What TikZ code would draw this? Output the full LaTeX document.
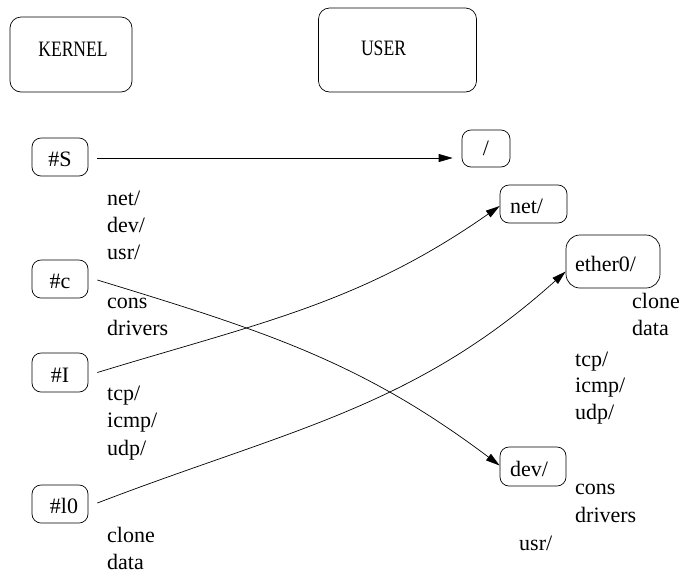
\documentclass[tikz,border=0pt]{standalone}
\usepackage{fontspec}
\setmainfont{Liberation Serif}
\usetikzlibrary{arrows.meta}
\newcommand\lowtxt[2][9.5pt]{\raisebox{-#1}[0pt][0pt]{#2}}
\newcommand\lefttxt[2]{\lowtxt{\makebox[#1][l]{#2}}}
\begin{document}
\begin{tikzpicture}[x=1pt,y=-1pt,
  every node/.style={font=\fontsize{22}{26}\selectfont},
  bigbox/.style={draw, line width=0.7pt, rounded corners=11pt, inner sep=0pt},
  smallbox/.style={draw, line width=0.7pt, rounded corners=9pt, inner sep=0pt},
  lbl/.style={anchor=base west, inner sep=0pt},
  conn/.style={line width=0.7pt, -{Triangle[length=14pt,width=8pt]}}]
\useasboundingbox (0,0) rectangle (682,574);

% top boxes
\node[bigbox, minimum width=122pt, minimum height=75pt] (kernel) at (71,54.5)
  {\lowtxt[1.5pt]{\hspace{4pt}\scalebox{0.8}[1]{KERNEL}}};
\node[bigbox, minimum width=158pt, minimum height=84pt] (user) at (397.5,50)
  {\lowtxt[5.5pt]{\scalebox{0.8}[1]{USER}\hspace{28pt}}};

% kernel side boxes
\node[smallbox, minimum width=56pt, minimum height=38pt] (S) at (60,157) {\lowtxt{\#S}};
\node[smallbox, minimum width=56pt, minimum height=38pt] (c) at (60,279) {\lowtxt{\#c}};
\node[smallbox, minimum width=56pt, minimum height=39pt] (I) at (60,372.5) {\lowtxt{\#I}};
\node[smallbox, minimum width=56pt, minimum height=38pt] (l0) at (60,504) {\lowtxt{\hspace{8pt}\#l0}};

% user side boxes
\node[smallbox, minimum width=48pt, minimum height=37pt] (root) at (486,148.5) {\lowtxt[7pt]{/}};
\node[smallbox, minimum width=67pt, minimum height=38pt] (net) at (533.5,204) {\lefttxt{47pt}{net/}};
\node[smallbox, minimum width=94pt, minimum height=53pt, rounded corners=14pt] (ether) at (613,261.5) {\lefttxt{76pt}{ether0/}};
\node[smallbox, minimum width=66pt, minimum height=39pt] (dev) at (533,466.5) {\lefttxt{46pt}{dev/}};

% left column texts
\node[lbl] (t1) at (107,205) {net/};
\node[lbl] (t2) at (107,232) {dev/};
\node[lbl] (t3) at (107,259) {usr/};
\node[lbl] (t4) at (107,308) {cons};
\node[lbl] (t5) at (107,335) {drivers};
\node[lbl] (t6) at (107,400) {tcp/};
\node[lbl] (t7) at (107,427) {icmp/};
\node[lbl] (t8) at (107,455) {udp/};
\node[lbl] (t9) at (107,542) {clone};
\node[lbl] (t10) at (107,569) {data};

% right column texts
\node[lbl] (r1) at (632,308) {clone};
\node[lbl] (r2) at (632,335) {data};
\node[lbl] (r3) at (575,366) {tcp/};
\node[lbl] (r4) at (575,392) {icmp/};
\node[lbl] (r5) at (575,419) {udp/};
\node[lbl] (r6) at (575,494) {cons};
\node[lbl] (r7) at (575,522) {drivers};
\node[lbl] (r8) at (519,550) {usr/};

% connectors
\draw[conn] ([xshift=9pt,yshift=-1pt]S.east) -- ([xshift=-9pt,yshift=-1pt]root.west |- S.east);
\draw[conn] ([xshift=9pt,yshift=-1pt]c.east) to[out=-17,in=143] ([yshift=1pt]dev.west);
\draw[conn] ([xshift=9pt]I.east) to[out=17,in=-145] ([yshift=-2pt]net.west);
\draw[conn] ([xshift=9pt,yshift=1pt]l0.east) to[out=21,in=-138] ([yshift=-10pt]ether.west);
\end{tikzpicture}
\end{document}
